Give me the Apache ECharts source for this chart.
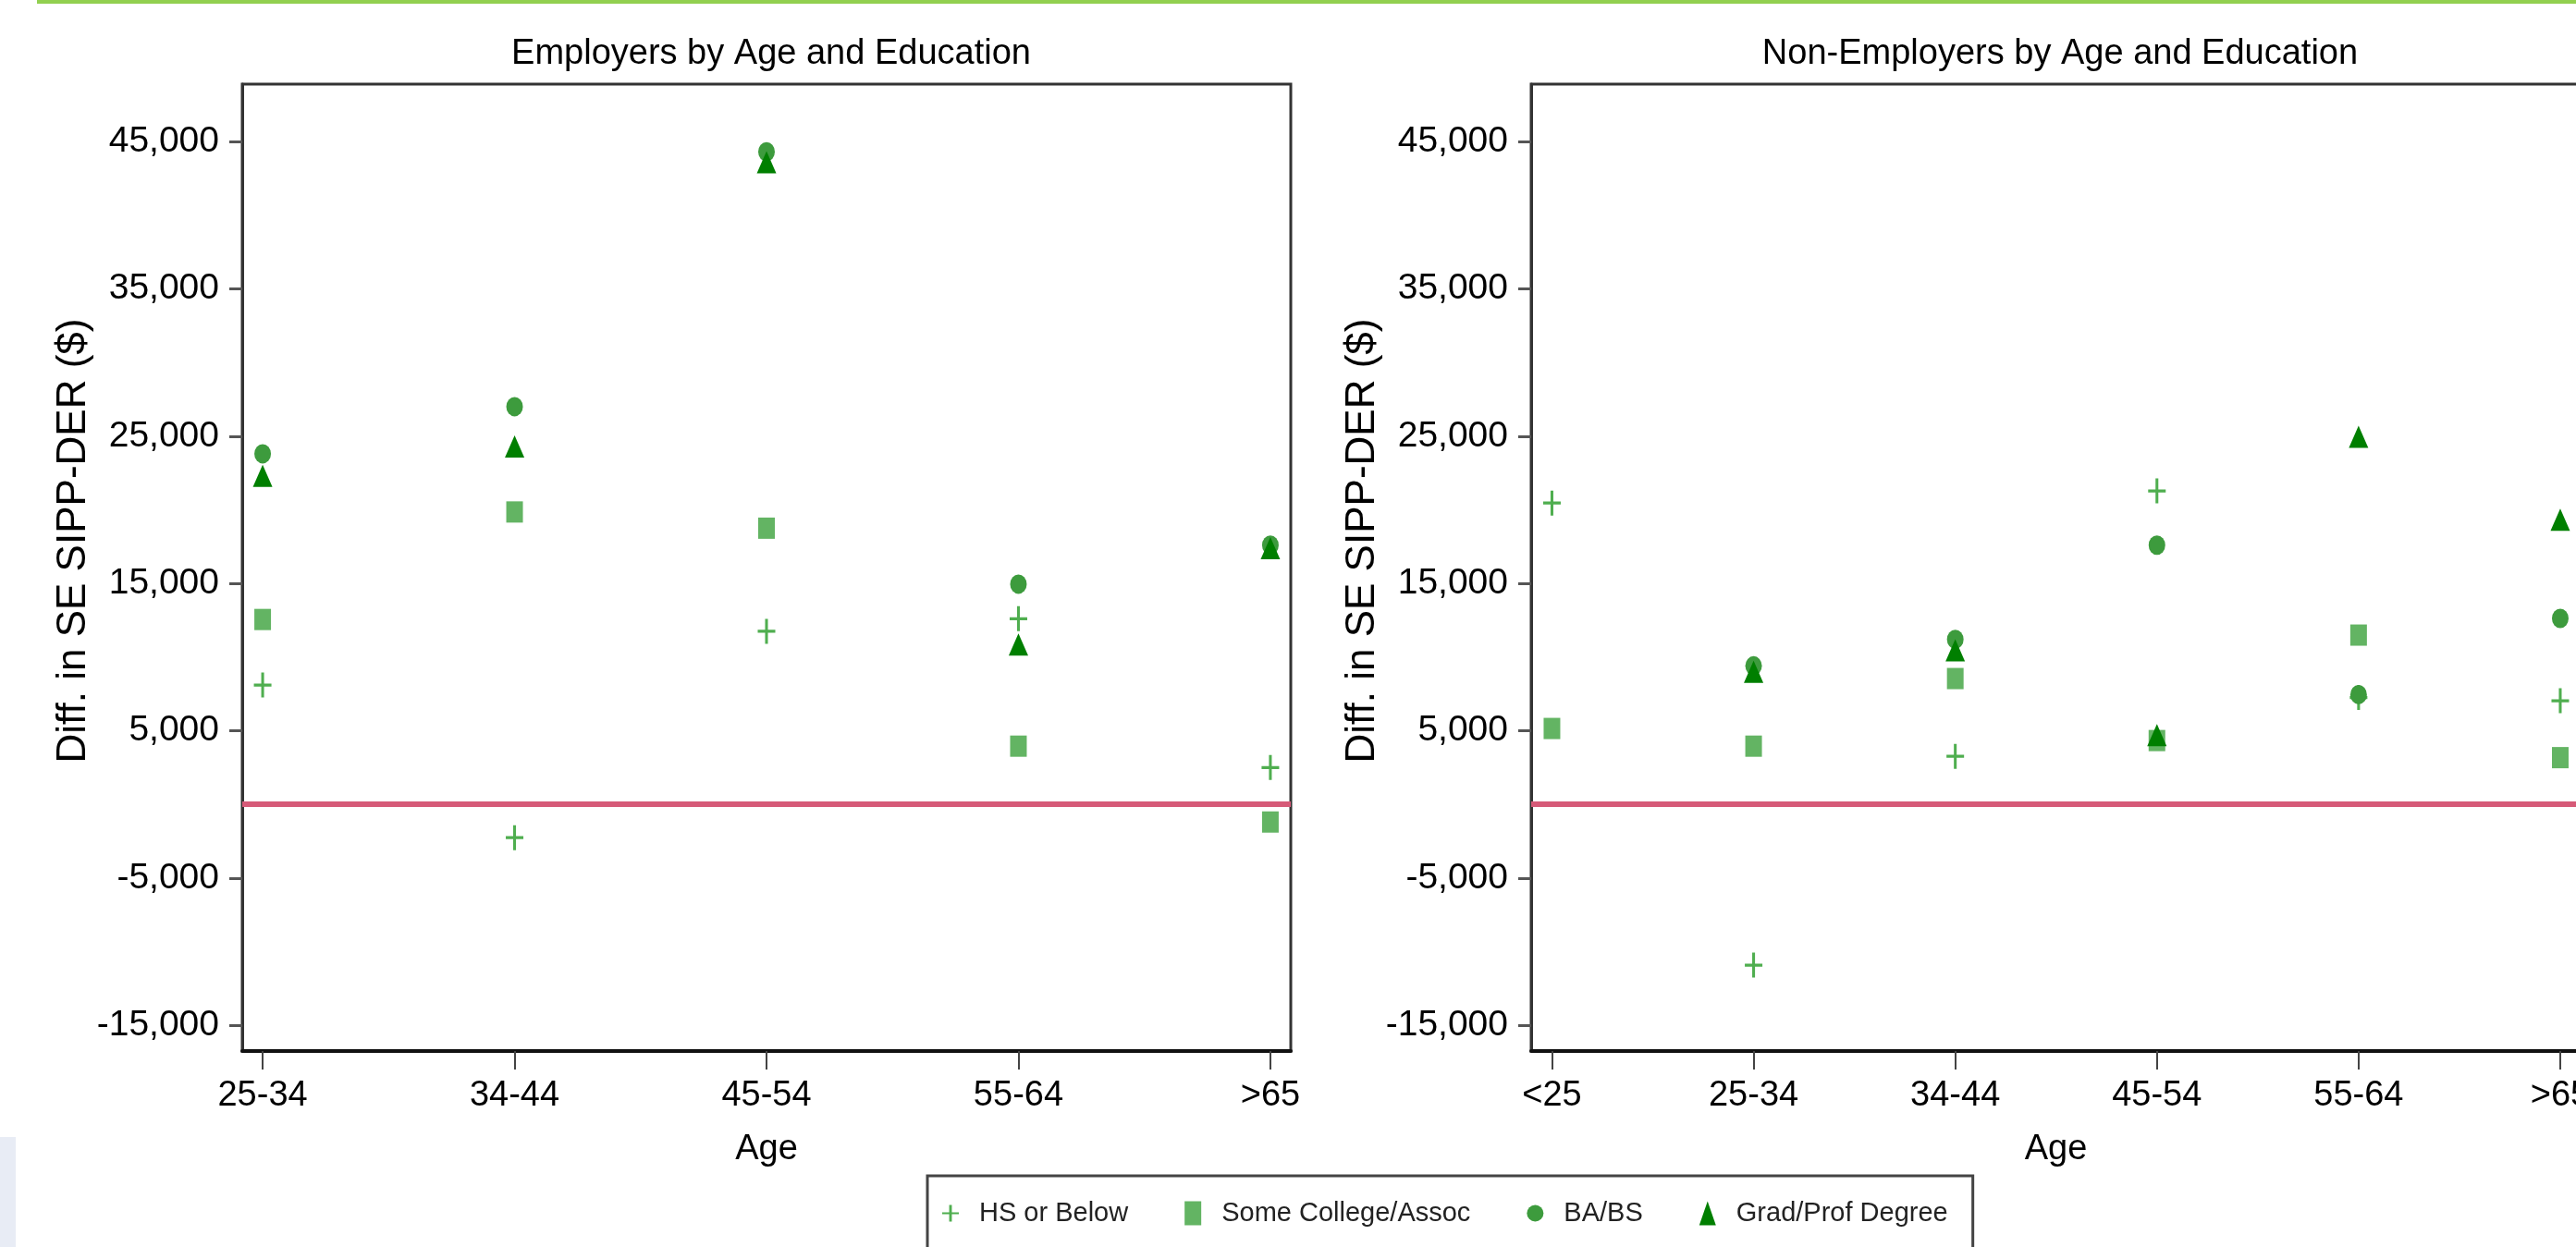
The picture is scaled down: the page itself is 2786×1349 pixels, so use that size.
<!DOCTYPE html>
<html>
<head>
<meta charset="utf-8">
<title>SE SIPP-DER differences</title>
<script src="https://cdn.jsdelivr.net/npm/echarts@6/dist/echarts.min.js"></script>
<style>
  html, body { margin: 0; padding: 0; background: #fff; overflow: hidden; }
  #chart { width: 2786px; height: 1349px; }
</style>
</head>
<body>
<div id="chart"></div>
<script>
// categories
const ageEmployers = ['25-34', '34-44', '45-54', '55-64', '>65']
const ageNonEmployers = ['<25', '25-34', '34-44', '45-54', '55-64', '>65']
const yTicks = [-15000, -5000, 5000, 15000, 25000, 35000, 45000]

// Employers, by education ($)
const empHS = [8100, -2260, 11750, 12600, 2500]
const empSomeCollege = [12550, 19850, 18750, 3950, -1200]
const empBA = [23800, 27000, 44300, 14950, 17600]
const empGrad = [22300, 24300, 43600, 10850, 17400]

// Non-employers, by education ($)
const nonHS = [20460, -10920, 3260, 21280, 7250, 7030]
const nonSomeCollege = [5150, 3950, 8540, 4330, 11490, 3170]
const nonBA = [null, 9400, 11200, 17600, 7450, 12620]
const nonGrad = [null, 9000, 10450, 4700, 24950, 19330]

const FONT = "'Liberation Sans', Arial, sans-serif"
const PLUS = 'path://M42,0H58V100H42Z M0,44H100V56H0Z'

const styles = {
  'HS or Below': { symbol: PLUS, size: [19, 27], color: '#4fae4f' },
  'Some College/Assoc': { symbol: 'rect', size: [18, 23], color: '#63b463' },
  'BA/BS': { symbol: 'circle', size: [18, 21], color: '#3d9b3d' },
  'Grad/Prof Degree': { symbol: 'triangle', size: [21, 24], color: '#007f00' },
}

const toPoints = values => values
  .map((v, i) => (v == null ? null : [i + 1, v]))
  .filter(p => p !== null)

const makeSeries = (name, values, idx) => ({
  name,
  type: 'scatter',
  xAxisIndex: idx,
  yAxisIndex: idx,
  symbol: styles[name].symbol,
  symbolSize: styles[name].size,
  itemStyle: { color: styles[name].color, opacity: 1 },
  data: toPoints(values),
})

const zeroLine = idx => ({
  name: 'zero',
  type: 'scatter',
  xAxisIndex: idx,
  yAxisIndex: idx,
  data: [],
  markLine: {
    silent: true,
    symbol: 'none',
    label: { show: false },
    lineStyle: { color: '#d65a78', width: 6, type: 'solid' },
    data: [{ yAxis: 0 }],
  },
})

const makeXAxis = (idx, cats, min, max) => ({
  type: 'value',
  gridIndex: idx,
  min,
  max,
  name: 'Age',
  nameLocation: 'middle',
  nameGap: 88,
  nameMoveOverlap: false,
  nameTextStyle: { fontFamily: FONT, fontSize: 38, color: '#000' },
  splitLine: { show: false },
  axisLine: { onZero: false, lineStyle: { color: '#111', width: 4 } },
  axisTick: { length: 20, lineStyle: { color: '#444', width: 2 }, customValues: cats.map((c, i) => i + 1) },
  axisLabel: {
    fontFamily: FONT, fontSize: 38, color: '#000', margin: 30,
    customValues: cats.map((c, i) => i + 1),
    formatter: v => cats[Math.round(v) - 1],
  },
})

const makeYAxis = idx => ({
  type: 'value',
  gridIndex: idx,
  min: -16750,
  max: 48900,
  name: 'Diff. in SE SIPP-DER ($)',
  nameLocation: 'middle',
  nameGap: 160,
  nameMoveOverlap: false,
  nameTextStyle: { fontFamily: FONT, fontSize: 44, color: '#000', padding: [0, 0, 0, 58] },
  splitLine: { show: false },
  axisLine: { show: true, onZero: false, lineStyle: { color: '#333', width: 3 } },
  axisTick: { show: true, length: 14, lineStyle: { color: '#555', width: 3 }, customValues: yTicks },
  axisLabel: {
    fontFamily: FONT, fontSize: 39, color: '#000', margin: 25,
    customValues: yTicks,
    formatter: v => v.toLocaleString('en-US'),
  },
})

const chart = echarts.init(document.getElementById('chart'), null, { renderer: 'canvas' })

const gridBase = { top: 91, height: 1046, show: true, borderColor: '#333', borderWidth: 3, backgroundColor: '#fff', outerBoundsMode: 'none', containLabel: false }

const option = {
  animation: false,
  backgroundColor: '#fff',
  title: [
    { text: 'Employers by Age and Education', left: 829, top: 35, textAlign: 'center',
      textStyle: { fontFamily: FONT, fontSize: 38, fontWeight: 'normal', color: '#000' } },
    { text: 'Non-Employers by Age and Education', left: 2223, top: 35, textAlign: 'center',
      textStyle: { fontFamily: FONT, fontSize: 38, fontWeight: 'normal', color: '#000' } },
  ],
  grid: [
    Object.assign({ left: 262, width: 1134 }, gridBase),
    Object.assign({ left: 1656, width: 1135 }, gridBase),
  ],
  xAxis: [
    makeXAxis(0, ageEmployers, 0.919, 5.081),
    makeXAxis(1, ageNonEmployers, 0.897, 6.101),
  ],
  yAxis: [makeYAxis(0), makeYAxis(1)],
  legend: {
    data: Object.keys(styles),
    left: 1003,
    top: 1272,
    orient: 'horizontal',
    padding: [26, 27, 80, 16],
    borderColor: '#444',
    borderWidth: 3,
    itemGap: 61,
    itemWidth: 18,
    itemHeight: 26,
    textStyle: { fontFamily: FONT, fontSize: 29, color: '#222', padding: [0, 0, 0, 17] },
  },
  graphic: [
    { type: 'rect', left: 40, top: 0, shape: { width: 2746, height: 4 }, style: { fill: '#92d050' } },
    { type: 'rect', left: 0, top: 1230, shape: { width: 17, height: 119 }, style: { fill: '#e8ecf5' } },
  ],
  series: [
    zeroLine(0),
    zeroLine(1),
    makeSeries('HS or Below', empHS, 0),
    makeSeries('Some College/Assoc', empSomeCollege, 0),
    makeSeries('BA/BS', empBA, 0),
    makeSeries('Grad/Prof Degree', empGrad, 0),
    makeSeries('HS or Below', nonHS, 1),
    makeSeries('Some College/Assoc', nonSomeCollege, 1),
    makeSeries('BA/BS', nonBA, 1),
    makeSeries('Grad/Prof Degree', nonGrad, 1),
  ],
}

chart.setOption(option)
</script>
</body>
</html>
